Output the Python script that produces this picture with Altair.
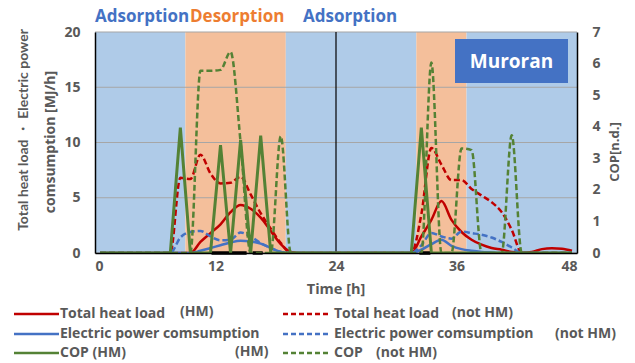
import altair as alt
import pandas as pd

# ---------------- data ----------------
hours = [0.5, 1.5, 2.5, 3.5, 4.5, 5.5, 6.5, 7.5, 8.5, 9.5, 10.5, 11.5,
         12.5, 13.5, 14.5, 15.5, 16.5, 17.5, 18.5, 19.5, 20.5, 21.5, 22.5, 23.5,
         24.5, 25.5, 26.5, 27.5, 28.5, 29.5, 30.5, 31.5, 32.5, 33.5, 34.5, 35.5,
         36.5, 37.5, 38.5, 39.5, 40.5, 41.5, 42.5, 43.5, 44.5, 45.5, 46.5, 47.5]

heat_hm = [0, 0, 0, 0, 0, 0, 0, 0, 0, 0, 1.0, 1.8,
           2.6, 3.7, 4.35, 4.0, 3.2, 2.0, 0.8, 0.1, 0, 0, 0, 0,
           0, 0, 0, 0, 0, 0, 0, 0, 1.5, 3.0, 4.7, 3.0,
           1.9, 1.2, 0.75, 0.45, 0.3, 0.1, 0.05, 0.1, 0.35, 0.42, 0.38, 0.2]

heat_not_hm = [0, 0, 0, 0, 0, 0, 0, 0, 6.8, 6.7, 8.9, 7.2,
               6.3, 6.35, 6.9, 5.3, 3.6, 2.2, 0.9, 0, 0, 0, 0, 0,
               0, 0, 0, 0, 0, 0, 0, 0, 3.5, 9.5, 8.0, 6.6,
               6.6, 5.8, 5.2, 4.6, 3.7, 2.1, 0, 0, 0, 0, 0, 0]

elec_hm = [0, 0, 0, 0, 0, 0, 0, 0, 0, 0, 0.2, 0.45,
           0.7, 0.95, 1.1, 1.05, 0.85, 0.45, 0.1, 0, 0, 0, 0, 0,
           0, 0, 0, 0, 0, 0, 0, 0, 0.3, 0.8, 1.2, 0.65,
           0.35, 0.2, 0.1, 0.05, 0, 0, 0, 0, 0, 0, 0, 0]

elec_not_hm = [0, 0, 0, 0, 0, 0, 0, 0, 1.4, 1.9, 2.0, 1.5,
               1.15, 1.2, 1.85, 1.5, 0.9, 0.45, 0.1, 0, 0, 0, 0, 0,
               0, 0, 0, 0, 0, 0, 0, 0, 0.7, 1.8, 1.5, 1.3,
               1.95, 1.8, 1.65, 1.4, 1.0, 0.5, 0, 0, 0, 0, 0, 0]

cop_hm = [0, 0, 0, 0, 0, 0, 0, 0, 3.97, 0, 0, 0,
          3.42, 0, 3.58, 0, 3.72, 0, 0, 0, 0, 0, 0, 0,
          0, 0, 0, 0, 0, 0, 0, 0, 3.97, 0, 0, 0,
          0, 0, 0, 0, 0, 0, 0, 0, 0, 0, 0, 0]

cop_not_hm = [0, 0, 0, 0, 0, 0, 0, 0, 0, 0, 5.77, 5.77,
              5.8, 6.37, 3.5, 0, 0, 0, 3.7, 0, 0, 0, 0, 0,
              0, 0, 0, 0, 0, 0, 0, 0, 0, 6.03, 0, 0,
              3.31, 3.26, 0, 0, 0, 3.73, 0, 0, 0, 0, 0, 0]

band_start = [0, 9, 19, 32, 37]
band_end = [9, 19, 32, 37, 48]
band_phase = ["Adsorption", "Desorption", "Adsorption", "Desorption", "Adsorption"]

black_start = [11.6, 15.7, 32.3]
black_end = [15.1, 16.7, 33.4]

day_boundary = [24]
x_ticks = [0, 12, 24, 36, 48]
left_ticks = [0, 5, 10, 15, 20]
cop_ticks = [0, 1, 2, 3, 4, 5, 6, 7]

# ---------------- style ----------------
W, H = 482, 221
FONT = "Open Sans"
GRAY = "#595959"
RED, BLUE, GREEN = "#C00000", "#4472C4", "#548235"
BG_BLUE, BG_ORANGE = "#AFCBE8", "#F4BF9B"

xscale = alt.Scale(domain=[0, 48], nice=False, zero=False)
xaxis = alt.Axis(values=x_ticks, ticks=False, grid=False, domainColor="black",
                 domainWidth=1.5, labelFont=FONT, labelFontSize=14,
                 labelFontWeight="bold", labelColor=GRAY, labelPadding=6,
                 title=None, zindex=1)
lscale = alt.Scale(domain=[0, 20], nice=False, zero=True)
rscale = alt.Scale(domain=[0, 7], nice=False, zero=True)


def X(field):
    return alt.X(field, type="quantitative", scale=xscale, axis=xaxis)


df_band = pd.DataFrame({"s": band_start, "e": band_end, "phase": band_phase})
bands = alt.Chart(df_band).mark_rect().encode(
    x=X("s"), x2="e",
    y=alt.YDatum(0, type="quantitative", scale=lscale, axis=None),
    y2=alt.Y2Datum(20),
    color=alt.Color("phase:N", scale=alt.Scale(domain=["Adsorption", "Desorption"],
                                               range=[BG_BLUE, BG_ORANGE]), legend=None),
)

grid = alt.Chart(pd.DataFrame({"tick": left_ticks})).mark_rule(
    color="#A6A6A6", strokeWidth=1.2).encode(
    y=alt.Y("tick:Q", scale=lscale,
            axis=alt.Axis(values=left_ticks, ticks=False, grid=False, domainColor="black",
                          domainWidth=1.5, labelFont=FONT, labelFontSize=14,
                          labelFontWeight="bold", labelColor=GRAY, labelPadding=15,
                          title=None, zindex=1)),
)

vline = alt.Chart(pd.DataFrame({"t": day_boundary})).mark_rule(
    color="black", strokeWidth=1.2).encode(x=X("t"))

blk = alt.Chart(pd.DataFrame({"s": black_start, "e": black_end})).mark_rule(
    color="black", strokeWidth=3.5).encode(
    x=X("s"), x2="e",
    y=alt.YDatum(0, type="quantitative", scale=lscale, axis=None))


def series(values, color, dash, width, scale, interp, axis=None):
    df = pd.DataFrame({"t": hours, "v": values})
    kw = dict(color=color, strokeWidth=width, interpolate=interp, clip=True)
    if dash:
        kw["strokeDash"] = dash
    return alt.Chart(df).mark_line(**kw).encode(
        x=X("t"), y=alt.Y("v:Q", scale=scale, axis=axis))


right_axis = alt.Axis(orient="right", values=cop_ticks, ticks=False, grid=False,
                      domainColor="black", domainWidth=1.5, labelFont=FONT,
                      labelFontSize=14, labelFontWeight="bold", labelColor=GRAY,
                      labelPadding=15, title=None, zindex=1)

l_heat_hm = series(heat_hm, RED, None, 2.5, lscale, "monotone")
l_heat_n = series(heat_not_hm, RED, [6, 3], 2.5, lscale, "monotone")
l_elec_hm = series(elec_hm, BLUE, None, 2.5, lscale, "monotone")
l_elec_n = series(elec_not_hm, BLUE, [6, 3], 2.5, lscale, "monotone")
l_cop_n = series(cop_not_hm, GREEN, [6, 3], 2.5, rscale, "monotone")
l_cop_hm = series(cop_hm, GREEN, None, 3, rscale, "linear", right_axis)

dummy = pd.DataFrame({"k": [0]})


def txt(text, x, y, size=14, color=GRAY, weight="bold", align="left",
        baseline="middle", angle=0, font=FONT):
    return alt.Chart(dummy).mark_text(
        font=font, fontSize=size, fontWeight=weight, color=color, align=align,
        baseline=baseline, angle=angle).encode(
        x=alt.value(x), y=alt.value(y), text=alt.value(text))


def lrule(x1, x2, y, color, dash, width):
    kw = dict(color=color, strokeWidth=width)
    if dash:
        kw["strokeDash"] = dash
    return alt.Chart(dummy).mark_rule(**kw).encode(
        x=alt.value(x1), x2=alt.value(x2), y=alt.value(y))


texts = [
    txt("Adsorption", 0, -10, 17, BLUE, baseline="alphabetic"),
    txt("Desorption", 95, -10, 17, "#ED7D31", baseline="alphabetic"),
    txt("Adsorption", 208, -10, 17, BLUE, baseline="alphabetic"),
    txt("Time [h]", 241, 258, 14.5, GRAY, align="center"),
    txt("Total heat load ・ Electric power", -71, 98, 14, GRAY, align="center",
        angle=270, font="Lato"),
    txt("comsumption [MJ/h]", -44, 110, 14, GRAY, align="center", angle=270),
    txt("COP[n.d.]", 520, 120, 13, GRAY, align="center", angle=270),
]

box = alt.Chart(dummy).mark_rect(color=BLUE).encode(
    x=alt.value(360), x2=alt.value(473), y=alt.value(7), y2=alt.value(51))
box_text = txt("Muroran", 416.5, 29.5, 19, "white", align="center")

R1, R2, R3 = 282, 302, 321
legend = [
    lrule(-81, -36, R1, RED, None, 2.5),
    txt("Total heat load", -35, R1),
    txt("(HM)", 85, R1 - 2),
    lrule(188, 233, R1, RED, [5, 3], 2.5),
    txt("Total heat load", 239, R1),
    txt("(not HM)", 357, R1 - 1),
    lrule(-81, -36, R2, BLUE, None, 2.5),
    txt("Electric power comsumption", -35, R2),
    lrule(188, 233, R2, BLUE, [5, 3], 2.5),
    txt("Electric power comsumption", 239, R2),
    txt("(not HM)", 460, R2),
    lrule(-81, -36, R3, GREEN, None, 2.5),
    txt("COP (HM)", -35, R3),
    txt("(HM)", 140, R3 - 1),
    lrule(188, 233, R3, GREEN, [5, 3], 2.5),
    txt("COP", 239, R3),
    txt("(not HM)", 281, R3),
]

chart = alt.layer(
    bands, grid, vline, blk,
    l_heat_hm, l_heat_n, l_elec_hm, l_elec_n, l_cop_n, l_cop_hm,
    *texts, box, box_text, *legend,
).resolve_scale(y="independent", color="independent").properties(
    width=W, height=H,
    autosize=alt.AutoSizeParams(type="none"),
    padding={"left": 95, "top": 32, "right": 58, "bottom": 110},
).configure_view(stroke=None)

chart.save("out.html", embed_options={"renderer": "svg", "actions": False})
